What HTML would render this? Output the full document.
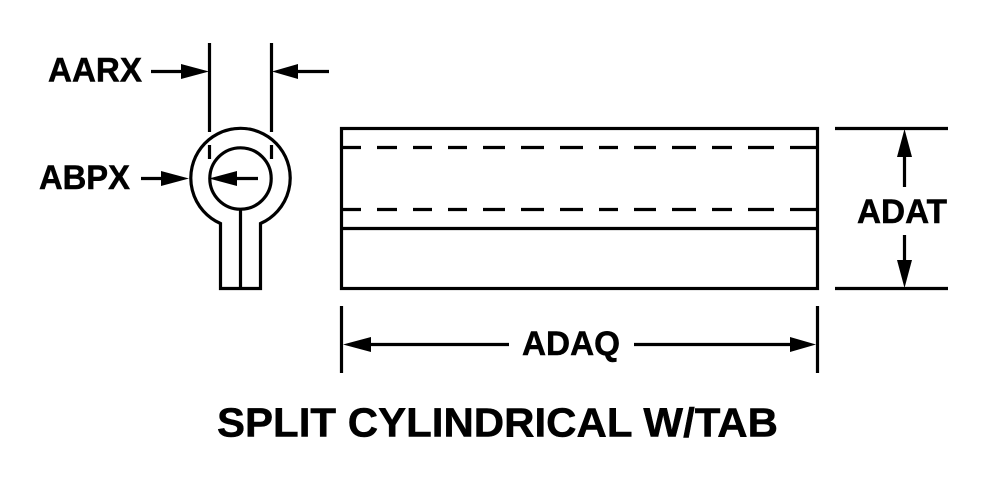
<!DOCTYPE html>
<html>
<head>
<meta charset="utf-8">
<style>
html,body{margin:0;padding:0;background:#fff;width:990px;height:480px;overflow:hidden}
svg{display:block}
text{font-family:"Liberation Sans",Arial,sans-serif;font-weight:bold;fill:#000;stroke:#000;stroke-width:.5}
</style>
</head>
<body>
<svg width="990" height="480" viewBox="0 0 990 480" xmlns="http://www.w3.org/2000/svg">
<rect width="990" height="480" fill="#fff"/>
<g fill="none" stroke="#000" stroke-width="3.2">
  <!-- end view -->
  <path d="M220.5 223.5 A49.7 49.7 0 1 1 260.5 223.5 V288.5 H220.5 Z"/>
  <circle cx="240.5" cy="178.5" r="30.7"/>
  <path d="M240.5 209V288.5"/>
  <!-- extension lines -->
  <path d="M209.5 43V132M209.5 145V159M271.5 43V132M271.5 145V159"/>
  <!-- side view -->
  <rect x="341.5" y="128.5" width="476" height="160"/>
  <path d="M341 228.5H818"/>
  <path d="M341 147.5H361M377 147.5H397M413 147.5H432M448 147.5H467M483 147.5H505M521 147.5H544M560 147.5H583M599 147.5H618M634 147.5H656M672 147.5H696M712 147.5H732M748 147.5H774M790 147.5H818"/>
  <path d="M341 209.5H361M377 209.5H397M413 209.5H432M448 209.5H467M483 209.5H505M521 209.5H544M560 209.5H583M599 209.5H618M634 209.5H656M672 209.5H696M712 209.5H732M748 209.5H774M790 209.5H818"/>
  <!-- dimension extension lines -->
  <path d="M835 128.5H948M835 288.5H948"/>
  <path d="M341.5 306V373M817.5 306V373"/>
  <!-- dimension lines -->
  <path d="M151 71.5H185M298 71.5H329M141 178.5H165M236 178.5H258"/>
  <path d="M904.5 155V187M904.5 235V262"/>
  <path d="M368 344.5H509M634 344.5H792"/>
</g>
<g fill="#000" stroke="none">
  <path d="M209 71.5L181 64V79Z"/>
  <path d="M272 71.5L298 64V79Z"/>
  <path d="M189 178.5L161 171V186Z"/>
  <path d="M209 178.5L237 171V186Z"/>
  <path d="M904.5 129L897 157H912Z"/>
  <path d="M904.5 288L897 260H912Z"/>
  <path d="M343 344.5L371 337V352Z"/>
  <path d="M816 344.5L790 337V352Z"/>
</g>
<g font-size="34">
  <text x="48" y="81.5" textLength="94" lengthAdjust="spacingAndGlyphs">AARX</text>
  <text x="39" y="189" textLength="91" lengthAdjust="spacingAndGlyphs">ABPX</text>
  <text x="857" y="223" textLength="90" lengthAdjust="spacingAndGlyphs">ADAT</text>
  <text x="522" y="355" textLength="98" lengthAdjust="spacingAndGlyphs">ADAQ</text>
</g>
<text x="217" y="436.5" font-size="40.5" textLength="561" lengthAdjust="spacingAndGlyphs">SPLIT CYLINDRICAL W/TAB</text>
</svg>
</body>
</html>
